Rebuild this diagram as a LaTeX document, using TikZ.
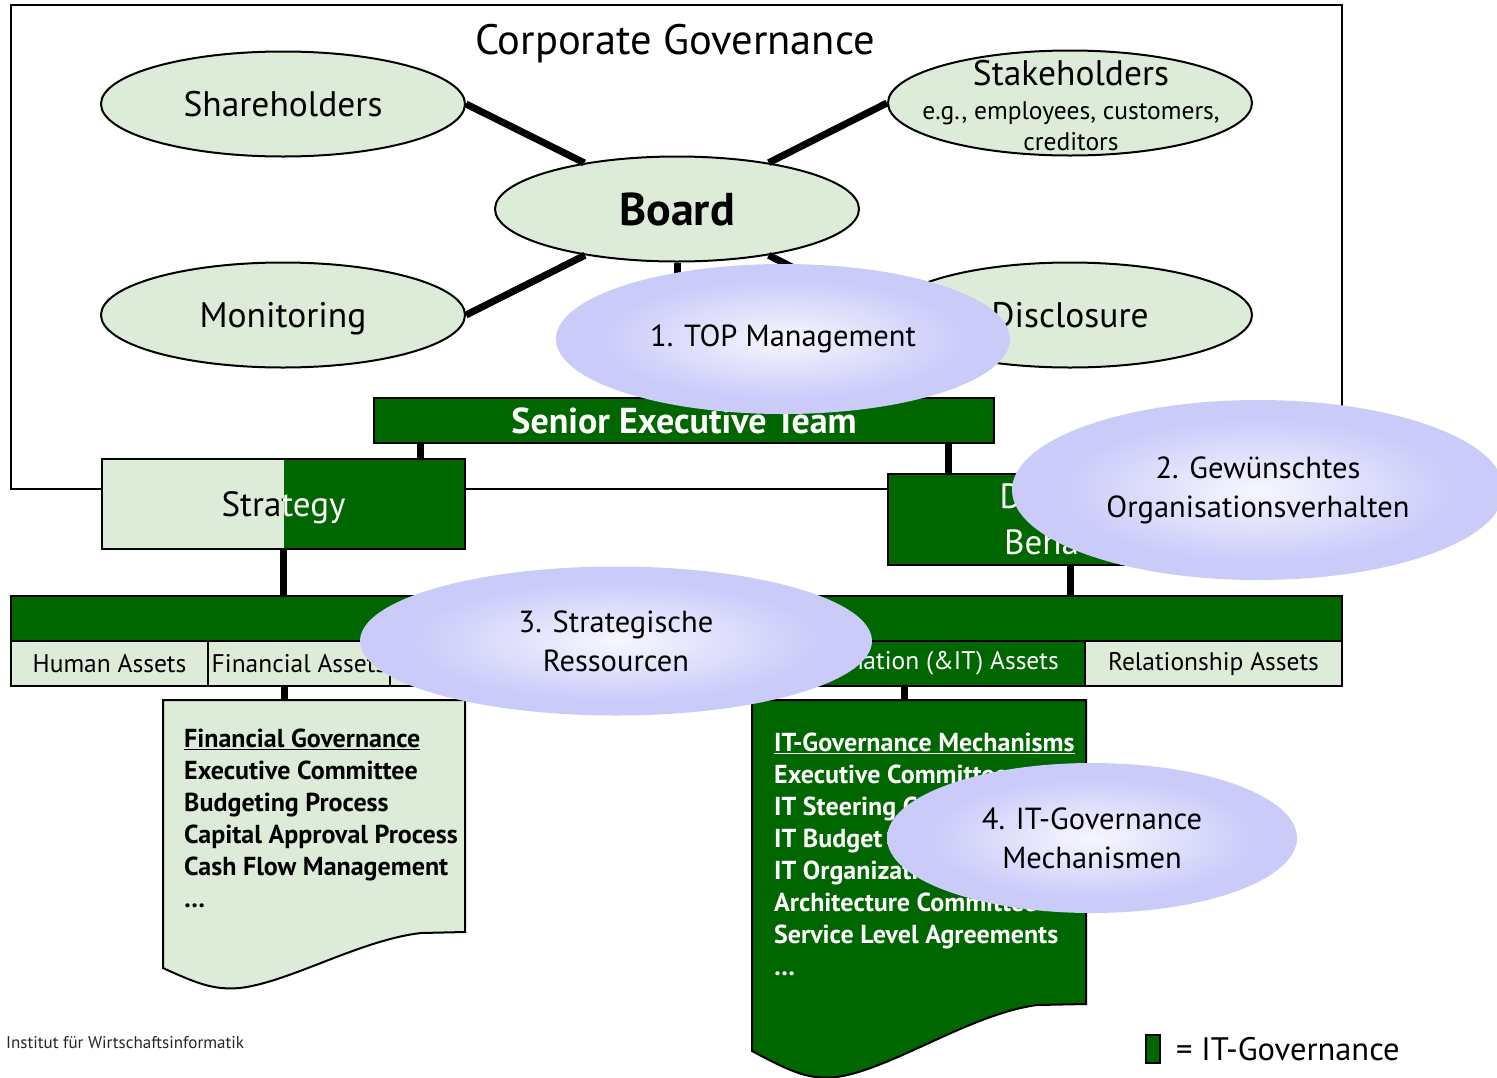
\documentclass[tikz,border=0pt]{standalone}
\usepackage{xcolor}
\usepackage{fontspec}
\setmainfont{PT Sans}
\usepackage{tikz}
\usetikzlibrary{shapes.geometric, positioning, calc}
\newcommand{\fsz}[2]{\fontsize{#1}{#2}\selectfont}
\definecolor{govlight}{RGB}{220,236,217}
\definecolor{itgreen}{RGB}{0,102,0}
\definecolor{bubble}{RGB}{203,203,250}
\colorlet{bubmid}{white!45!bubble}
\colorlet{bubcenter}{white!85!bubble}
\pgfdeclareradialshading{bubbleshade}{\pgfpoint{0bp}{0bp}}{color(0bp)=(bubcenter); color(9bp)=(bubmid); color(20bp)=(bubble); color(50bp)=(bubble)}
\tikzstyle{govnode} = [ellipse, draw=black, line width=2pt, fill=govlight, minimum width=364pt, minimum height=105pt, inner sep=0pt, text depth=0pt, font=\fsz{35.5}{40}]
\tikzstyle{govbox} = [rectangle, draw=black, line width=2.5pt, fill=govlight, inner sep=0pt, outer sep=0pt]
\tikzstyle{itbox} = [govbox, fill=itgreen, text=white]
\tikzstyle{assetcell} = [govbox, line width=2pt, minimum height=45pt, font=\fsz{25.5}{30}]
\tikzstyle{link} = [line width=7pt]
\tikzstyle{doctext} = [anchor=north west, align=left, inner sep=0pt, font=\fsz{26}{32}\bfseries]
\tikzstyle{bubblenode} = [ellipse, shading=bubbleshade, inner sep=0pt, align=center, font=\fsz{30.5}{39}]

\begin{document}
\begin{tikzpicture}[x=1pt, y=-1pt]
    \useasboundingbox (0,0) rectangle (1497,1077);

    % Corporate governance frame
    \draw[line width=2pt] (11,5) rectangle (1342,489);
    \node[font=\fsz{42.5}{48}] (cgtitle) at (675,44) {Corporate Governance};

    % Board and its partners
    \node[govnode, font=\fsz{46}{52}\bfseries] (board) at (677,209) {Board};
    \node[govnode] (share) at (283,104) {Shareholders};
    \node[govnode] (monitor) at (283,315) {Monitoring};
    \node[govnode] (stake) at (1070,103) {};
    \node[align=center, font=\fsz{25.5}{31}] (staketext) at (1071,106) {{\fsz{35.5}{40}Stakeholders}\\[3pt]e.g., employees, customers,\\creditors};
    \node[govnode] (disclose) at (1070,315) {Disclosure};
    \node[itbox, minimum width=620pt, minimum height=45pt, font=\fsz{36}{40}\bfseries] (set) at (684,420.5) {Senior Executive Team};
    \draw[link] (share.east) -- (board);
    \draw[link] (monitor.east) -- (board);
    \draw[link] (stake.west) -- (board);
    \draw[link] (disclose.west) -- (board);
    \draw[link] (board.south) -- (board.south |- set.north);

    % Strategy and desirable behaviour
    \node[govbox, minimum width=363pt, minimum height=90pt] (strat) at (283.5,504) {};
    \fill[itgreen] (strat.north) rectangle (strat.south east);
    \draw[line width=2.5pt] (strat.north west) rectangle (strat.south east);
    \begin{scope}
        \clip (strat.north west) rectangle (strat.south);
        \node[font=\fsz{35}{40}] (stratleft) at ($(strat.center)+(0,4)$) {Strategy};
    \end{scope}
    \begin{scope}
        \clip (strat.north) rectangle (strat.south east);
        \node[font=\fsz{35}{40}, text=white] (stratright) at ($(strat.center)+(0,4)$) {Strategy};
    \end{scope}
    \node[itbox, minimum width=364pt, minimum height=91pt, align=center, font=\fsz{35}{46}] (desired) at (1070,519.5) {Desirable\\Behavior};
    \draw[link] ([xshift=46pt]set.south west) -- ([xshift=46pt]set.south west |- strat.north);
    \draw[link] ([xshift=-46pt]set.south east) -- ([xshift=-46pt]set.south east |- desired.north);

    % Key assets
    \node[itbox, minimum width=1331pt, minimum height=45pt] (bar) at (676.5,618.5) {};
    \node[assetcell, minimum width=197pt, anchor=north west] (human) at (bar.south west) {Human Assets};
    \node[assetcell, minimum width=182pt, right=0pt of human] (financial) {Financial Assets};
    \node[assetcell, minimum width=187pt, right=0pt of financial] (physical) {};
    \node[assetcell, minimum width=188pt, right=0pt of physical] (ipassets) {};
    \node[assetcell, minimum width=320pt, right=0pt of ipassets, fill=itgreen, text=white] (information) {Information (\&IT) Assets};
    \node[assetcell, minimum width=257pt, right=0pt of information] (relation) {Relationship Assets};
    \draw[link] (strat.south) -- (strat.south |- bar.north);
    \draw[link] (desired.south) -- (desired.south |- bar.north);

    % Governance documents
    \coordinate (fintop) at (284,700);
    \coordinate (ittop) at (904,700);
    \draw[link] (fintop |- financial.south) -- (fintop);
    \draw[link] (ittop |- information.south) -- (ittop);
    \draw[line width=2pt, fill=govlight] (163,700) -- (465,700) -- (465,932) -- (421,933) .. controls (360,940) and (290,982) .. (240,988) .. controls (215,990) and (200,985) .. (163,968) -- cycle;
    \node[doctext] (fintext) at (184,729) {\underline{Financial Governance}\\Executive Committee\\Budgeting Process\\Capital Approval Process\\Cash Flow Management\\\dots};
    \draw[line width=2pt, fill=itgreen] (752,700) -- (1086,700) -- (1086,1004) -- (1037,1005) .. controls (970,1014) and (892,1069) .. (837,1077) .. controls (810,1080) and (793,1073) .. (752,1051) -- cycle;
    \node[doctext, text=white] (ittext) at (774,733) {\underline{IT-Governance Mechanisms}\\Executive Committee\\IT Steering Committee\\IT Budget Process\\IT Organization\\Architecture Committee\\Service Level Agreements\\\dots};

    % Focus areas
    \node[bubblenode, minimum width=454pt, minimum height=150pt] (focusone) at (783,339) {1. TOP Management};
    \node[bubblenode, minimum width=492pt, minimum height=180pt] (focustwo) at (1258,490) {2. Gewünschtes\\Organisationsverhalten};
    \node[bubblenode, minimum width=512pt, minimum height=149pt] (focusthree) at (616,641) {3. Strategische\\Ressourcen};
    \node[bubblenode, minimum width=410pt, minimum height=150pt] (focusfour) at (1092,838) {4. IT-Governance\\Mechanismen};

    % Legend
    \node[itbox, line width=2pt, minimum width=14pt, minimum height=28pt] (legendbox) at (1153,1049) {};
    \node[right=16pt of legendbox, font=\fsz{32.5}{38}, inner sep=0pt] (legendtext) {= IT-Governance};
    \node[anchor=west, inner sep=0pt, font=\fsz{17}{20}, text=black!85] (institut) at (6,1043) {Institut für Wirtschaftsinformatik};
\end{tikzpicture}
\end{document}
